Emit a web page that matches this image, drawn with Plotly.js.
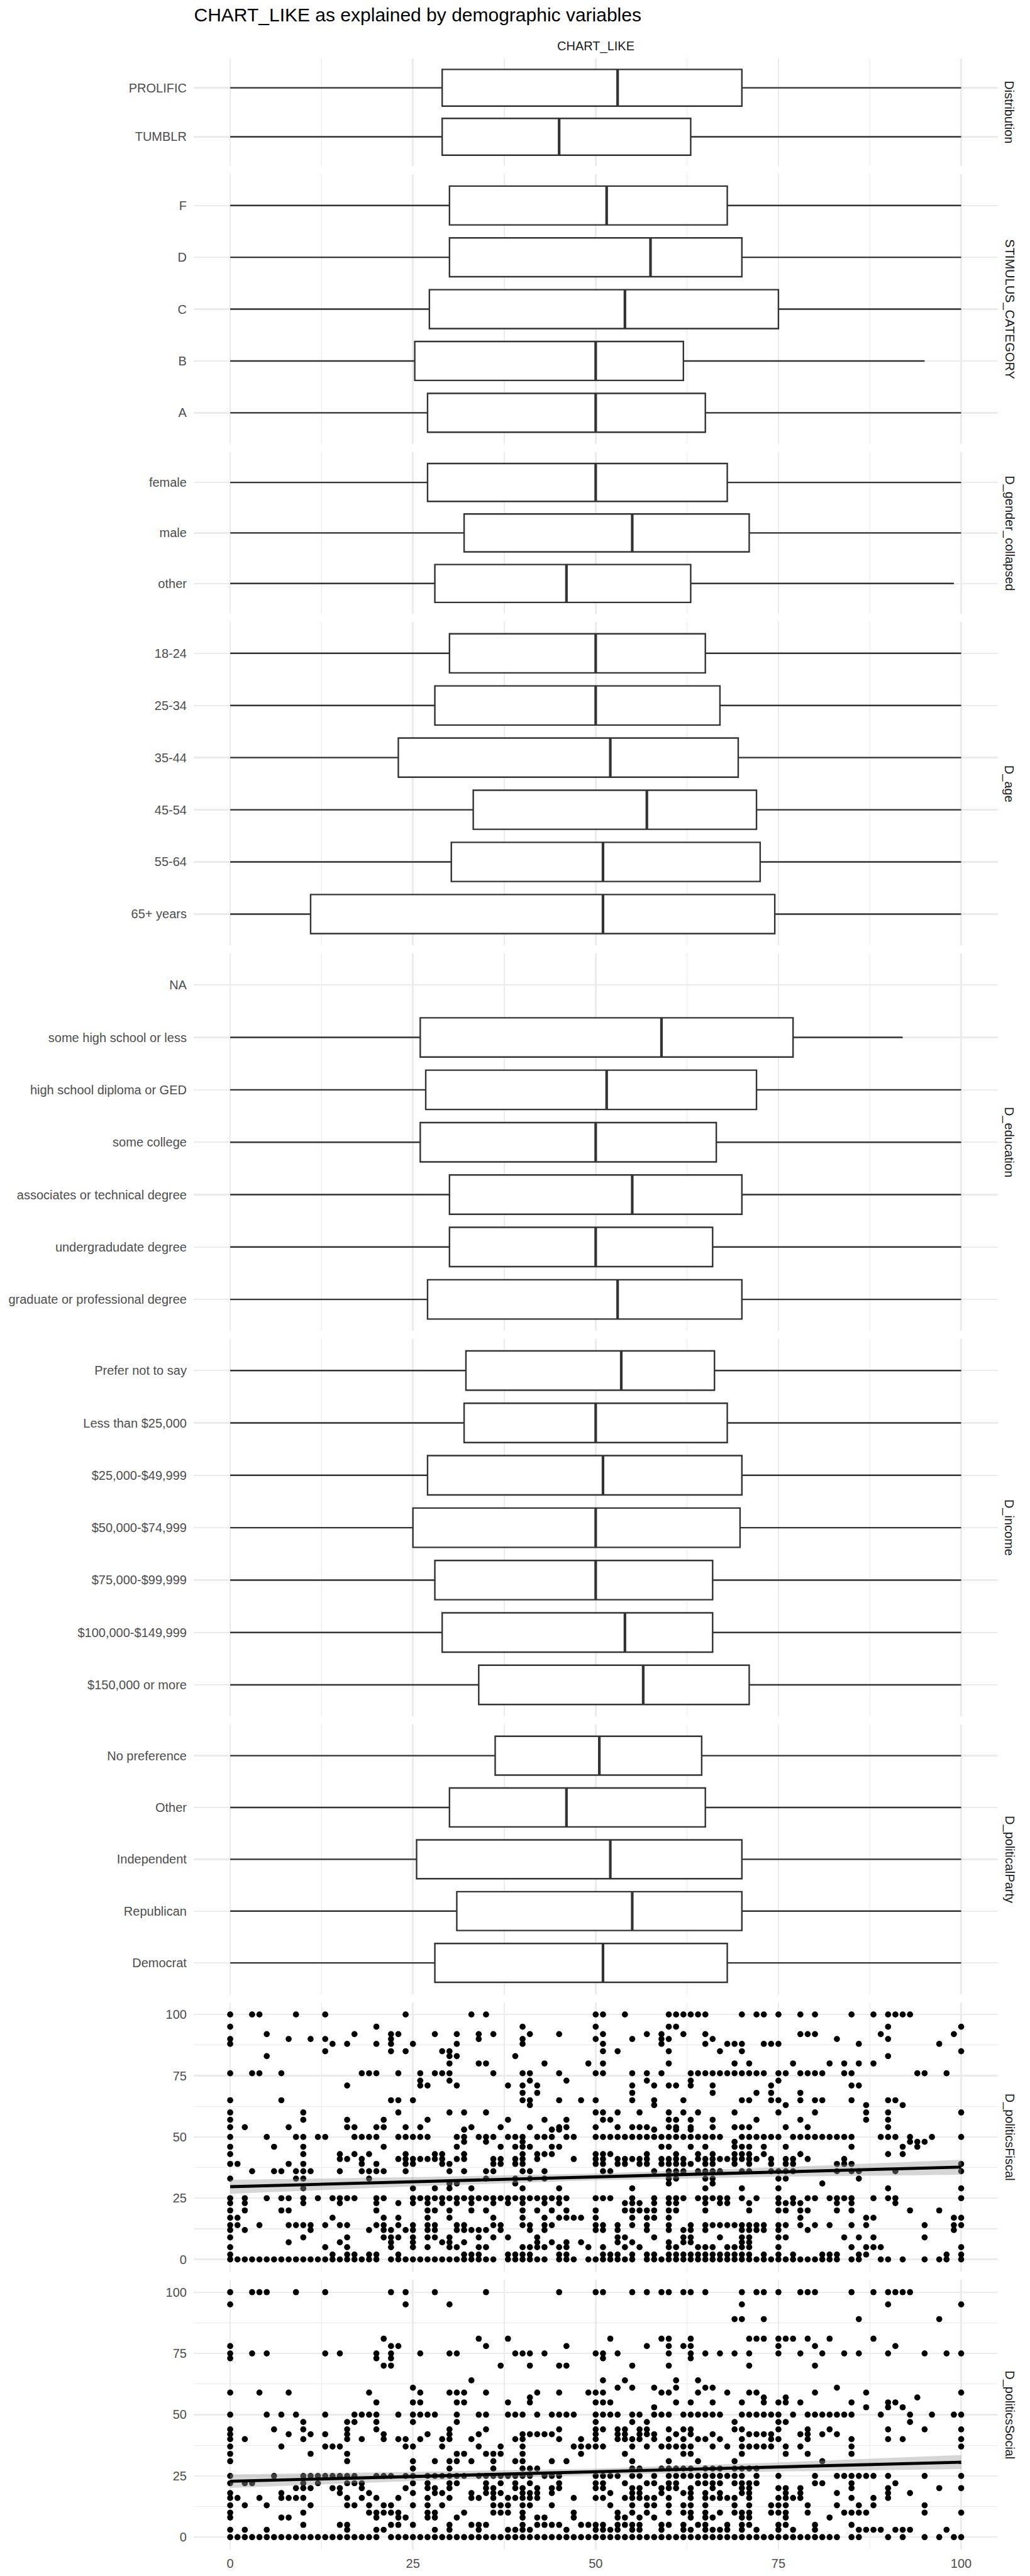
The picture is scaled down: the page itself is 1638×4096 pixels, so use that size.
<!DOCTYPE html>
<html>
<head>
<meta charset="utf-8">
<script src="https://cdn.plot.ly/plotly-3.0.1.min.js"></script>
<style>html,body{margin:0;padding:0;background:#fff;}#chart{width:1638px;height:4096px;}</style>
</head>
<body>
<div id="chart"></div>
<script>
// ---------------- DATA ----------------
const distLabels = ['PROLIFIC', 'TUMBLR'];
const distQ1 = [29, 29];
const distMed = [53, 45];
const distQ3 = [70, 63];
const distLo = [0, 0];
const distHi = [100, 100];

const stimLabels = ['F', 'D', 'C', 'B', 'A'];
const stimQ1 = [30, 30, 27.25, 25.25, 27];
const stimMed = [51.5, 57.5, 54, 50, 50];
const stimQ3 = [68, 70, 75, 62, 65];
const stimLo = [0, 0, 0, 0, 0];
const stimHi = [100, 100, 100, 95, 100];

const genderLabels = ['female', 'male', 'other'];
const genderQ1 = [27, 32, 28];
const genderMed = [50, 55, 46];
const genderQ3 = [68, 71, 63];
const genderLo = [0, 0, 0];
const genderHi = [100, 100, 99];

const ageLabels = ['18-24', '25-34', '35-44', '45-54', '55-64', '65+ years'];
const ageQ1 = [30, 28, 23, 33.25, 30.25, 11];
const ageMed = [50, 50, 52, 57, 51, 51];
const ageQ3 = [65, 67, 69.5, 72, 72.5, 74.5];
const ageLo = [0, 0, 0, 0, 0, 0];
const ageHi = [100, 100, 100, 100, 100, 100];

const eduLabels = ['NA', 'some high school or less', 'high school diploma or GED', 'some college',
  'associates or technical degree', 'undergradudate degree', 'graduate or professional degree'];
const eduQ1 = [null, 26, 26.75, 26, 30, 30, 27];
const eduMed = [null, 59, 51.5, 50, 55, 50, 53];
const eduQ3 = [null, 77, 72, 66.5, 70, 66, 70];
const eduLo = [null, 0, 0, 0, 0, 0, 0];
const eduHi = [null, 92, 100, 100, 100, 100, 100];

const incomeLabels = ['Prefer not to say', 'Less than $25,000', '$25,000-$49,999', '$50,000-$74,999',
  '$75,000-$99,999', '$100,000-$149,999', '$150,000 or more'];
const incomeQ1 = [32.25, 32, 27, 25, 28, 29, 34];
const incomeMed = [53.5, 50, 51, 50, 50, 54, 56.5];
const incomeQ3 = [66.25, 68, 70, 69.75, 66, 66, 71];
const incomeLo = [0, 0, 0, 0, 0, 0, 0];
const incomeHi = [100, 100, 100, 100, 100, 100, 100];

const partyLabels = ['No preference', 'Other', 'Independent', 'Republican', 'Democrat'];
const partyQ1 = [36.25, 30, 25.5, 31, 28];
const partyMed = [50.5, 46, 52, 55, 51];
const partyQ3 = [64.5, 65, 70, 70, 68];
const partyLo = [0, 0, 0, 0, 0];
const partyHi = [100, 100, 100, 100, 100];

const xTicks = [0, 25, 50, 75, 100];
const yTicks = [0, 25, 50, 75, 100];

// scatter: D_politicsFiscal (rows: y value -> x values)
const fiscalRowY = [100, 95, 92, 90, 88, 85, 83, 80, 76, 73, 71, 68, 65, 63, 60, 57, 54, 53, 50, 48, 46, 43, 41, 39, 36, 33, 31, 29, 25, 23, 20, 17, 14, 12, 9, 7, 5, 2, 0];
const fiscalRowX = [
  [0,3,4,9,13,24,33,35,50,51,54,60,61,62,63,64,65,70,72,73,75,78,80,85,88,90,91,92,93],
  [0,20,40,50,60,61,90,100],
  [5,17,22,23,28,31,34,36,41,45,51,57,59,62,65,78,79,80,89,99],
  [0,8,11,13,22,34,40,50,55,59,60,66,83,90],
  [0,14,16,20,22,25,31,40,51,59,65,68,69,70,73,74,75,86,97],
  [13,22,24,29,30,51,53,60,67,70,100],
  [5,30,31,39,90],
  [30,34,35,43,49,51,60,69,71,77,82,84,86,88],
  [0,3,4,7,18,19,20,23,26,28,29,30,36,40,41,45,50,51,55,57,59,63,64,65,66,67,68,69,70,71,72,73,75,76,78,79,80,81,84,85,94,95,98],
  [26,30,41,46,57,63,75],
  [16,26,27,31,38,40,42,55,58,60,61,63,66,74,85,86],
  [40,42,55,66,72,74,78],
  [0,7,22,23,25,40,41,45,48,50,55,58,62,70,71,74,75,78,80,81,85,90,91],
  [41,58,76,87,92],
  [0,10,23,30,32,35,50,51,53,56,60,62,64,69,75,80,87,90,100],
  [0,10,16,21,27,38,43,46,51,52,60,61,63,66,72,78,87,90],
  [0,2,8,16,17,20,21,24,26,33,37,41,45,46,50,53,55,56,57,60,61,63,66,69,70,71,76,79,90],
  [32,44,45,58,61,63],
  [0,5,9,10,12,13,17,18,19,20,23,24,25,26,27,31,32,34,35,36,38,39,40,42,43,44,46,47,50,51,52,53,54,55,56,57,58,59,60,61,62,63,64,65,66,67,70,71,72,73,74,75,77,78,79,80,81,82,83,84,85,89,90,91,93,96,100],
  [32,35,40,69,93,94,95],
  [0,6,10,21,31,37,39,40,41,44,45,59,60,63,65,69,70,71,73,76,85,92,94],
  [0,10,15,17,19,24,28,29,32,40,42,43,44,50,51,52,57,61,64,66,69,70,71,73,78,90,92],
  [15,16,18,23,24,25,26,27,28,29,31,32,36,37,39,40,42,47,50,51,53,54,55,56,57,59,60,61,62,64,65,66,67,68,69,70,71,72,74,76,77,79,84],
  [0,1,8,10,18,20,24,25,29,30,36,37,39,40,50,51,53,54,56,57,59,60,61,62,63,65,66,69,71,74,76,77,83,84,85,100],
  [3,6,7,9,10,11,15,18,19,20,21,24,30,32,35,36,40,41,43,51,52,58,60,61,62,64,65,66,67,70,71,74,75,76,77,83,85,86,91,100],
  [0,9,10,19,35,39,41,43,60,61,65,66,75,76,86],
  [30,31,39,60,66,81],
  [10,25,28,30,33,40,45,55,65,70,75,90,100],
  [0,2,5,7,8,10,12,14,15,16,17,20,21,25,26,27,28,29,30,31,32,33,34,35,36,37,38,39,40,41,42,43,44,45,46,50,51,52,55,58,60,61,62,64,65,66,67,68,70,72,75,77,79,80,82,83,84,85,88,90,91,100],
  [0,2,10,15,20,23,25,27,29,31,33,36,38,40,43,45,54,55,56,58,60,61,65,67,68,71,75,76,77,78,83,85,91],
  [0,2,7,8,20,27,28,30,33,35,40,42,44,46,50,54,55,56,57,58,60,61,65,71,75,76,78,79,83,85,93,97],
  [0,1,14,21,23,27,30,36,40,43,45,46,47,48,50,55,57,58,60,78,87,88,99,100],
  [0,1,4,8,9,10,11,13,15,16,20,21,23,25,27,28,31,32,36,37,40,41,43,44,50,51,53,55,57,60,63,65,66,67,68,69,70,71,72,73,75,76,78,80,82,85,87,95,99,100],
  [0,2,11,19,21,22,24,25,27,28,31,32,33,34,35,37,41,43,50,51,53,57,60,62,63,65,70,71,72,73,75,79,99],
  [0,10,16,21,22,23,25,27,28,30,34,36,38,42,53,54,58,62,63,67,70,71,75,76,84,86,88,95],
  [8,15,22,25,29,30,32,42,44,46,48,53,55,60,62,63,70,71],
  [0,13,16,22,25,27,30,31,34,35,40,41,42,43,45,46,49,51,54,56,60,61,64,65,66,68,69,70,71,75,85,87,88,89,100],
  [0,14,16,17,19,20,23,32,33,34,38,39,40,41,45,46,51,52,53,55,57,58,60,61,62,63,64,65,66,67,68,69,70,71,73,75,77,81,82,83,86,87,98,100],
  [0,1,2,3,4,5,6,7,8,9,10,11,12,13,14,15,16,17,18,19,20,22,23,24,25,26,27,28,29,30,31,32,33,34,35,36,38,39,40,41,42,43,45,46,47,49,50,51,52,53,54,55,57,58,59,60,61,62,63,64,65,66,67,68,69,70,71,72,73,74,75,76,77,78,79,80,81,82,83,85,86,89,90,92,95,97,98,100]
];

// scatter: D_politicsSocial
const socialRowY = [100, 95, 89, 81, 78, 75, 73, 70, 64, 61, 59, 57, 55, 53, 50, 47, 44, 42, 40, 37, 34, 31, 28, 25, 22, 20, 18, 16, 13, 10, 8, 5, 3, 0];
const socialRowX = [
  [0,3,4,5,9,13,22,24,28,35,45,50,51,55,57,59,60,62,63,65,70,72,73,75,78,79,80,85,88,90,91,92,93],
  [0,24,30,70,90,100],
  [69,70,73,86,97],
  [21,34,38,52,59,60,63,71,72,73,75,76,77,79,82,88],
  [0,22,23,35,46,57,60,62,63,75,80,91],
  [0,3,5,13,15,20,22,26,30,31,39,40,41,43,50,51,53,60,63,65,67,69,71,75,78,81,84,86,90,95,98,100],
  [0,20,22,51,63],
  [21,22,37,41,45,46,55,60,71,80],
  [33,51,54,61,64],
  [25,53,55,58,61,65,66,83],
  [0,4,8,19,26,30,31,32,35,42,45,49,50,51,59,60,64,68,71,72,80,87,100],
  [41,73,76,94],
  [20,25,26,31,32,38,41,50,51,52,61,63,66,70,73,75,76,78,85,90,91],
  [58,87,90,92],
  [0,5,7,9,13,17,18,19,20,23,25,26,27,28,31,34,35,38,39,40,42,44,45,46,47,50,51,52,53,55,56,58,59,60,62,63,64,65,66,67,70,71,72,73,74,75,77,79,80,81,82,83,84,85,89,93,96,99,100],
  [10,16,17,20,25,31,50,55,57,69,75,76,93],
  [0,6,10,16,20,30,35,45,50,51,53,54,56,57,60,62,63,69,70,75,79,82,90,95,100],
  [0,8,11,13,16,21,27,30,34,40,41,42,43,44,50,53,54,56,57,58,61,63,66,71,72,73,74,78,79,81,83],
  [0,2,10,16,18,21,23,24,26,29,30,33,39,40,45,48,50,53,54,55,56,58,60,62,64,65,67,70,74,75,79,85,90,92,100],
  [0,7,13,14,15,24,25,29,34,37,40,47,48,49,50,51,55,57,59,60,61,62,63,66,68,70,71,72,73,74,76,78,85,100],
  [0,11,16,31,32,35,36,37,40,48,54,62,63,70,76,79,85],
  [0,16,25,28,30,31,33,36,39,40,44,46,55,60,64,69,81],
  [25,30,36,40,41,42,55,56,59,60,61,62,63,65,66,67,69,70,71,72],
  [0,6,10,11,12,13,14,15,16,17,20,21,22,24,25,27,28,29,30,31,32,34,35,36,37,38,39,40,41,43,44,45,50,51,52,53,55,56,58,60,61,62,63,64,65,66,67,68,69,70,72,75,80,83,84,85,86,87,88,90,95,100],
  [0,2,3,10,12,16,17,18,25,27,30,31,35,37,39,41,45,50,51,54,57,58,60,61,64,65,66,67,69,70,71,72,80,81,85,91],
  [9,10,11,14,15,18,24,27,28,30,35,36,39,40,42,44,45,50,51,55,56,59,60,61,63,66,70,71,75,76,78,85,90,97,100],
  [0,7,15,19,25,28,29,33,35,36,37,40,41,42,44,52,55,56,59,62,63,65,67,70,71,76,78,83,90,93],
  [0,1,4,7,8,9,10,16,18,20,23,27,30,33,34,36,38,39,40,41,42,47,50,51,54,55,56,57,58,60,63,65,66,67,68,69,71,75,76,77,78,85,88,90],
  [0,2,5,11,16,17,19,21,22,25,27,29,36,37,38,40,41,44,52,55,57,58,60,62,63,65,69,71,74,75,76,79,83,86,88,95],
  [0,10,19,20,21,22,23,27,28,32,36,37,38,40,47,53,55,57,60,62,63,65,67,69,70,71,74,75,76,79,84,85,86,87,95,100],
  [0,7,8,20,23,24,27,28,31,40,42,43,47,53,54,56,58,63,65,66,70,71,76,82],
  [10,15,16,22,23,25,30,33,34,35,40,42,43,44,45,48,49,50,51,53,54,55,56,59,60,62,64,65,68,70,71,75,76,80,85],
  [0,2,5,16,20,21,28,30,34,38,39,40,41,46,50,51,52,53,55,56,59,62,63,65,66,67,68,70,72,75,77,80,86,87,88,89,91,92,93,98],
  [0,1,2,3,4,5,6,7,8,9,10,11,12,13,14,15,16,17,18,19,20,22,23,24,25,26,27,28,29,30,31,32,33,34,35,36,37,38,39,40,41,42,43,44,45,46,47,48,49,50,51,52,53,54,55,56,57,58,59,60,61,62,63,64,65,66,67,68,69,70,71,72,73,74,75,76,77,78,79,80,81,82,83,85,86,90,92,95,97,99,100]
];

// linear fits with confidence band
const fitX = [0, 25, 50, 75, 100];
const fiscalFit = [29.7, 31.7, 33.7, 35.7, 37.7];
const fiscalLo = [26.8, 29.8, 32.3, 33.8, 34.6];
const fiscalHi = [32.5, 33.6, 35.1, 37.6, 40.7];
const socialFit = [22.8, 24.75, 26.7, 28.65, 30.6];
const socialLo = [20.1, 22.9, 25.4, 26.8, 27.8];
const socialHi = [25.6, 26.6, 28.0, 30.5, 33.5];

// ---------------- LAYOUT GEOMETRY (reference pixels, 3000 x 7500) ----------------
const REF_W = 3000, REF_H = 7500;
const PANEL_L = 564, PANEL_R = 2906;
const PANEL_TOP = 170, UNIT = 156.9, GAP = 24;
const STRIP_X = 2940;
const FONT = 'Liberation Sans, Arial, Helvetica, sans-serif';
const GRID = '#EBEBEB';
const BOXLINE = '#333333';

const boxPanels = [
  {strip: 'Distribution', labels: distLabels, q1: distQ1, med: distMed, q3: distQ3, lo: distLo, hi: distHi},
  {strip: 'STIMULUS_CATEGORY', labels: stimLabels, q1: stimQ1, med: stimMed, q3: stimQ3, lo: stimLo, hi: stimHi},
  {strip: 'D_gender_collapsed', labels: genderLabels, q1: genderQ1, med: genderMed, q3: genderQ3, lo: genderLo, hi: genderHi},
  {strip: 'D_age', labels: ageLabels, q1: ageQ1, med: ageMed, q3: ageQ3, lo: ageLo, hi: ageHi},
  {strip: 'D_education', labels: eduLabels, q1: eduQ1, med: eduMed, q3: eduQ3, lo: eduLo, hi: eduHi},
  {strip: 'D_income', labels: incomeLabels, q1: incomeQ1, med: incomeMed, q3: incomeQ3, lo: incomeLo, hi: incomeHi},
  {strip: 'D_politicalParty', labels: partyLabels, q1: partyQ1, med: partyMed, q3: partyQ3, lo: partyLo, hi: partyHi}
];
const scatterPanels = [
  {strip: 'D_politicsFiscal', rowY: fiscalRowY, rowX: fiscalRowX, fit: fiscalFit, lo: fiscalLo, hi: fiscalHi},
  {strip: 'D_politicsSocial', rowY: socialRowY, rowX: socialRowX, fit: socialFit, lo: socialLo, hi: socialHi}
];

const traces = [];
const layout = {
  width: 1638, height: 4096,
  margin: {l: 0, r: 0, t: 0, b: 0, pad: 0},
  paper_bgcolor: '#FFFFFF', plot_bgcolor: '#FFFFFF',
  showlegend: false,
  font: {family: FONT, color: '#4D4D4D'},
  title: {
    text: 'CHART_LIKE as explained by demographic variables',
    font: {family: FONT, size: 30, color: '#000000'},
    x: 565 / REF_W, xanchor: 'left', xref: 'container',
    y: 1 - 43 / REF_H, yanchor: 'middle', yref: 'container'
  },
  annotations: []
};

const xDomain = [PANEL_L / REF_W, PANEL_R / REF_W];
const nPanels = boxPanels.length + scatterPanels.length;
let cursor = PANEL_TOP;

function axisX(k, last) {
  return {
    domain: xDomain, anchor: 'y' + k, range: [-5, 105],
    tickmode: 'array', tickvals: xTicks, ticktext: xTicks.map(String),
    showticklabels: last, ticks: '', ticklabelstandoff: 8,
    tickfont: {family: FONT, size: 20, color: '#4D4D4D'},
    showgrid: true, gridcolor: GRID, gridwidth: 2.4,
    minor: {tickmode: 'linear', tick0: 0, dtick: 12.5, showgrid: true, gridcolor: GRID, gridwidth: 1.2, ticks: ''},
    zeroline: false, showline: false, fixedrange: true
  };
}

function addStrip(text, top, bottom) {
  layout.annotations.push({
    text: text, xref: 'paper', yref: 'paper',
    x: STRIP_X / REF_W, y: 1 - (top + bottom) / 2 / REF_H,
    xanchor: 'center', yanchor: 'middle', textangle: 90, showarrow: false,
    font: {family: FONT, size: 20, color: '#1A1A1A'}
  });
}

// box panels
boxPanels.forEach((p, i) => {
  const k = i + 1;
  const n = p.labels.length;
  const top = cursor, bottom = cursor + n * UNIT;
  cursor = bottom + GAP;
  const pos = p.labels.map((_, j) => n - j);
  const idx = p.q1.map((v, j) => j).filter(j => p.q1[j] !== null);
  const ax = 'x' + (k === 1 ? '' : k), ay = 'y' + (k === 1 ? '' : k);
  traces.push({
    type: 'box', orientation: 'h', xaxis: ax, yaxis: ay,
    y: idx.map(j => pos[j]),
    q1: idx.map(j => p.q1[j]), median: idx.map(j => p.med[j]), q3: idx.map(j => p.q3[j]),
    lowerfence: idx.map(j => p.lo[j]), upperfence: idx.map(j => p.hi[j]),
    width: 0.75, whiskerwidth: 0, boxpoints: false,
    fillcolor: '#FFFFFF', line: {color: BOXLINE, width: 2.4}, hoverinfo: 'skip'
  });
  // thicker median segments
  const mx = [], my = [];
  idx.forEach(j => { mx.push(p.med[j], p.med[j], null); my.push(pos[j] - 0.375, pos[j] + 0.375, null); });
  traces.push({type: 'scatter', mode: 'lines', x: mx, y: my, xaxis: ax, yaxis: ay,
    line: {color: BOXLINE, width: 4.2}, hoverinfo: 'skip'});

  layout['xaxis' + (k === 1 ? '' : k)] = axisX(k === 1 ? '' : k, false);
  layout['yaxis' + (k === 1 ? '' : k)] = {
    domain: [1 - bottom / REF_H, 1 - top / REF_H], anchor: 'x' + (k === 1 ? '' : k),
    range: [0.4, n + 0.6], tickmode: 'array', tickvals: pos, ticktext: p.labels,
    ticks: '', ticklabelstandoff: 10,
    tickfont: {family: FONT, size: 20, color: '#4D4D4D'},
    showgrid: true, gridcolor: GRID, gridwidth: 2.4,
    zeroline: false, showline: false, fixedrange: true
  };
  addStrip(p.strip, top, bottom);
  if (k === 1) {
    layout.annotations.push({
      text: 'CHART_LIKE', xref: 'paper', yref: 'paper',
      x: (PANEL_L + PANEL_R) / 2 / REF_W, y: 1 - 134 / REF_H,
      xanchor: 'center', yanchor: 'middle', showarrow: false,
      font: {family: FONT, size: 20, color: '#1A1A1A'}
    });
  }
});

// scatter panels
scatterPanels.forEach((p, i) => {
  const k = boxPanels.length + i + 1;
  const top = cursor, bottom = cursor + 5 * UNIT;
  cursor = bottom + GAP;
  const xs = [], ys = [];
  p.rowY.forEach((yv, r) => p.rowX[r].forEach(xv => { xs.push(xv); ys.push(yv); }));
  const ax = 'x' + k, ay = 'y' + k;
  traces.push({type: 'scatter', mode: 'markers', x: xs, y: ys, xaxis: ax, yaxis: ay,
    marker: {color: '#000000', size: 9.7, line: {width: 0}}, hoverinfo: 'skip', cliponaxis: true});
  traces.push({type: 'scatter', mode: 'lines', xaxis: ax, yaxis: ay,
    x: fitX.concat(fitX.slice().reverse()), y: p.hi.concat(p.lo.slice().reverse()),
    fill: 'toself', fillcolor: 'rgba(153,153,153,0.4)', line: {width: 0, color: 'rgba(0,0,0,0)'}, hoverinfo: 'skip'});
  traces.push({type: 'scatter', mode: 'lines', x: fitX, y: p.fit, xaxis: ax, yaxis: ay,
    line: {color: '#000000', width: 4.9}, hoverinfo: 'skip'});
  layout['xaxis' + k] = axisX(k, k === nPanels);
  layout['yaxis' + k] = {
    domain: [1 - bottom / REF_H, 1 - top / REF_H], anchor: 'x' + k,
    range: [-5, 105], tickmode: 'array', tickvals: yTicks, ticktext: yTicks.map(String),
    ticks: '', ticklabelstandoff: 10,
    tickfont: {family: FONT, size: 20, color: '#4D4D4D'},
    showgrid: true, gridcolor: GRID, gridwidth: 2.4,
    minor: {tickmode: 'linear', tick0: 0, dtick: 12.5, showgrid: true, gridcolor: GRID, gridwidth: 1.2, ticks: ''},
    zeroline: false, showline: false, fixedrange: true
  };
  addStrip(p.strip, top, bottom);
});

Plotly.newPlot('chart', traces, layout, {staticPlot: true, displayModeBar: false});
</script>
</body>
</html>
